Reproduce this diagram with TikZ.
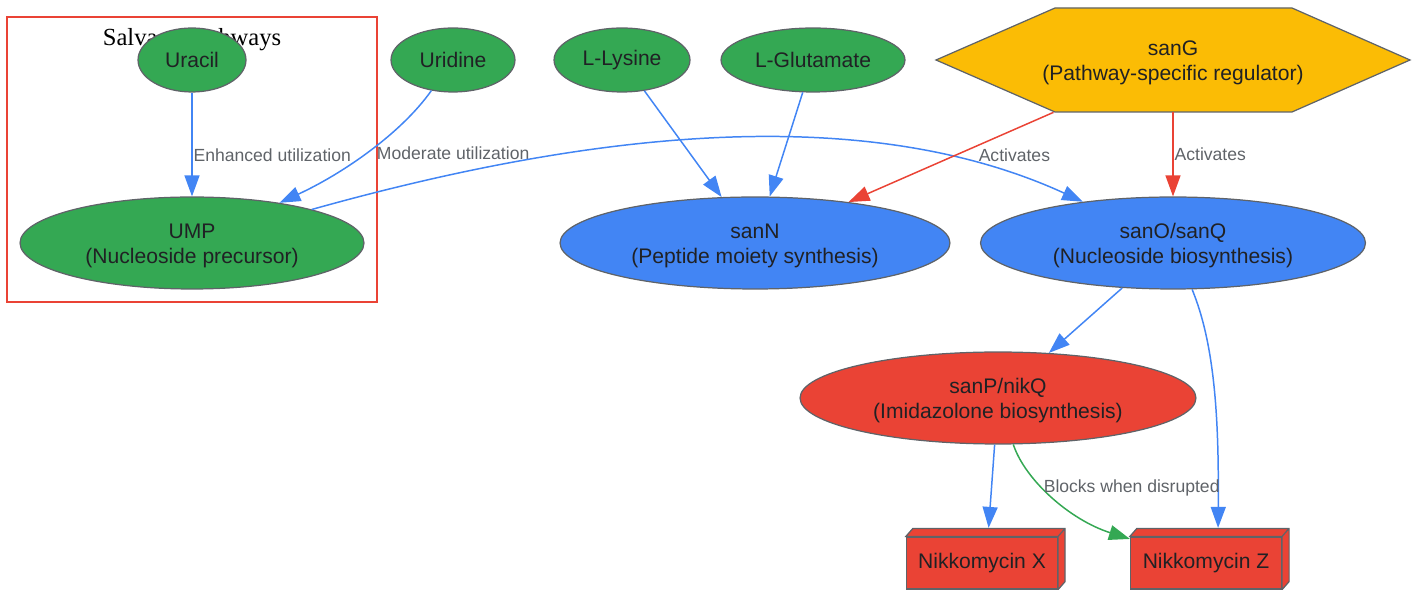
\documentclass[tikz,border=0pt]{standalone}
\usepackage{fontspec}
\setmainfont{Liberation Sans}
\newfontfamily\titlefont{Liberation Serif}
\usetikzlibrary{arrows.meta,shapes.geometric}

\definecolor{ggreen}{HTML}{34A853}
\definecolor{gblue}{HTML}{4285F4}
\definecolor{gred}{HTML}{EA4335}
\definecolor{gyellow}{HTML}{FBBC05}
\definecolor{edge}{HTML}{5F6368}
\definecolor{note}{HTML}{5F6368}
\definecolor{ink}{HTML}{202124}

\begin{document}
\begin{tikzpicture}[x=0.02cm, y=-0.02cm,
        every node/.style={align=center, font=\fontsize{12}{14.2}\selectfont, text=ink},
        arrow/.style={-{Triangle[length=0.42cm, width=0.3cm]}, line width=0.85pt, draw=gblue},
        lbl/.style={font=\fontsize{10}{12}\selectfont, text=note, inner sep=0.5pt},
        source/.style={ellipse, draw=edge, line width=0.7pt, fill=ggreen, inner sep=0pt, minimum height=1.28cm},
        gene/.style={ellipse, draw=edge, line width=0.7pt, inner sep=0pt, minimum height=1.84cm, text height=26.2pt},
        product/.style={rectangle, draw=edge, line width=0.7pt, fill=gred, minimum width=3.02cm, minimum height=1.04cm}
    ]
        \useasboundingbox (0,0) rectangle (1420,590);

        % Salvage cluster
        \draw[gred, line width=0.85pt] (7,17) rectangle (377,302);
        \node[font=\titlefont\fontsize{14}{16}\selectfont, text=black] (salvage) at (192,40) {Salvage Pathways};

        % Top row
        \node[source, minimum width=2.16cm] (uracil) at (192,60) {Uracil};
        \node[source, minimum width=2.48cm] (uridine) at (453,60) {Uridine};
        \node[source, minimum width=2.72cm] (lys) at (622,60) {L-Lysine};
        \node[source, minimum width=3.68cm] (glu) at (813,60) {L-Glutamate};
        \filldraw[fill=gyellow, draw=edge, line width=0.7pt] (936,60) -- (1055,8) -- (1292,8) -- (1410,60) -- (1292,112) -- (1055,112) -- cycle;
        \node[minimum width=9.48cm, minimum height=2.08cm, text height=26.2pt] (sanG) at (1173,60) {sanG\\(Pathway-specific regulator)};

        % Middle row
        \node[gene, fill=ggreen, minimum width=6.88cm] (ump) at (192,243) {UMP\\(Nucleoside precursor)};
        \node[gene, fill=gblue, minimum width=7.8cm] (sanN) at (755,243) {sanN\\(Peptide moiety synthesis)};
        \node[gene, fill=gblue, minimum width=7.7cm] (sanO) at (1173,243) {sanO/sanQ\\(Nucleoside biosynthesis)};
        \node[gene, fill=gred, minimum width=7.92cm] (sanP) at (998,398) {sanP/nikQ\\(Imidazolone biosynthesis)};

        % Products
        \node[product] (nikX) at (982,563) {Nikkomycin X};
        \node[product] (nikZ) at (1206,563) {Nikkomycin Z};
        \foreach \b in {nikX, nikZ}
            \filldraw[fill=gred, draw=edge, line width=0.7pt] (\b.north west) -- ++(7,-8) -- ([shift={(7,-8)}]\b.north east)
                -- ([shift={(7,-8)}]\b.south east) -- (\b.south east) -- (\b.north east) -- cycle
                (\b.north east) -- ++(7,-8);

        % Salvage arrows
        \draw[arrow] (uracil) -- node[lbl, pos=0.6, anchor=west] {Enhanced utilization} (ump);
        \draw[arrow] (uridine) .. controls (400,135) and (340,175) .. node[lbl, pos=0.5, anchor=west, xshift=0.18cm] {Moderate utilization} (ump);
        \draw[arrow] (ump) .. controls (560,140) and (850,95) .. (sanO);

        % Precursors and regulation
        \draw[arrow] (lys) -- (sanN);
        \draw[arrow] (glu) -- (sanN);
        \draw[arrow, draw=gred] (sanG) -- node[lbl, pos=0.475, anchor=west, xshift=0.42cm] {Activates} (sanN);
        \draw[arrow, draw=gred] (sanG) -- node[lbl, pos=0.5, anchor=west] {Activates} (sanO);

        % Downstream
        \draw[arrow] (sanO) -- (sanP);
        \draw[arrow, shorten >=0.17cm] (sanO) .. controls (1215,345) and (1219,420) .. ([xshift=0.24cm]nikZ.north);
        \draw[arrow, shorten >=0.17cm] (sanP) -- ([xshift=0.12cm]nikX.north);
        \draw[arrow, draw=ggreen] (sanP) .. controls (1025,480) and (1070,520) .. node[lbl, pos=0.4, anchor=west] {Blocks when disrupted} (nikZ);
    \end{tikzpicture}
\end{document}
